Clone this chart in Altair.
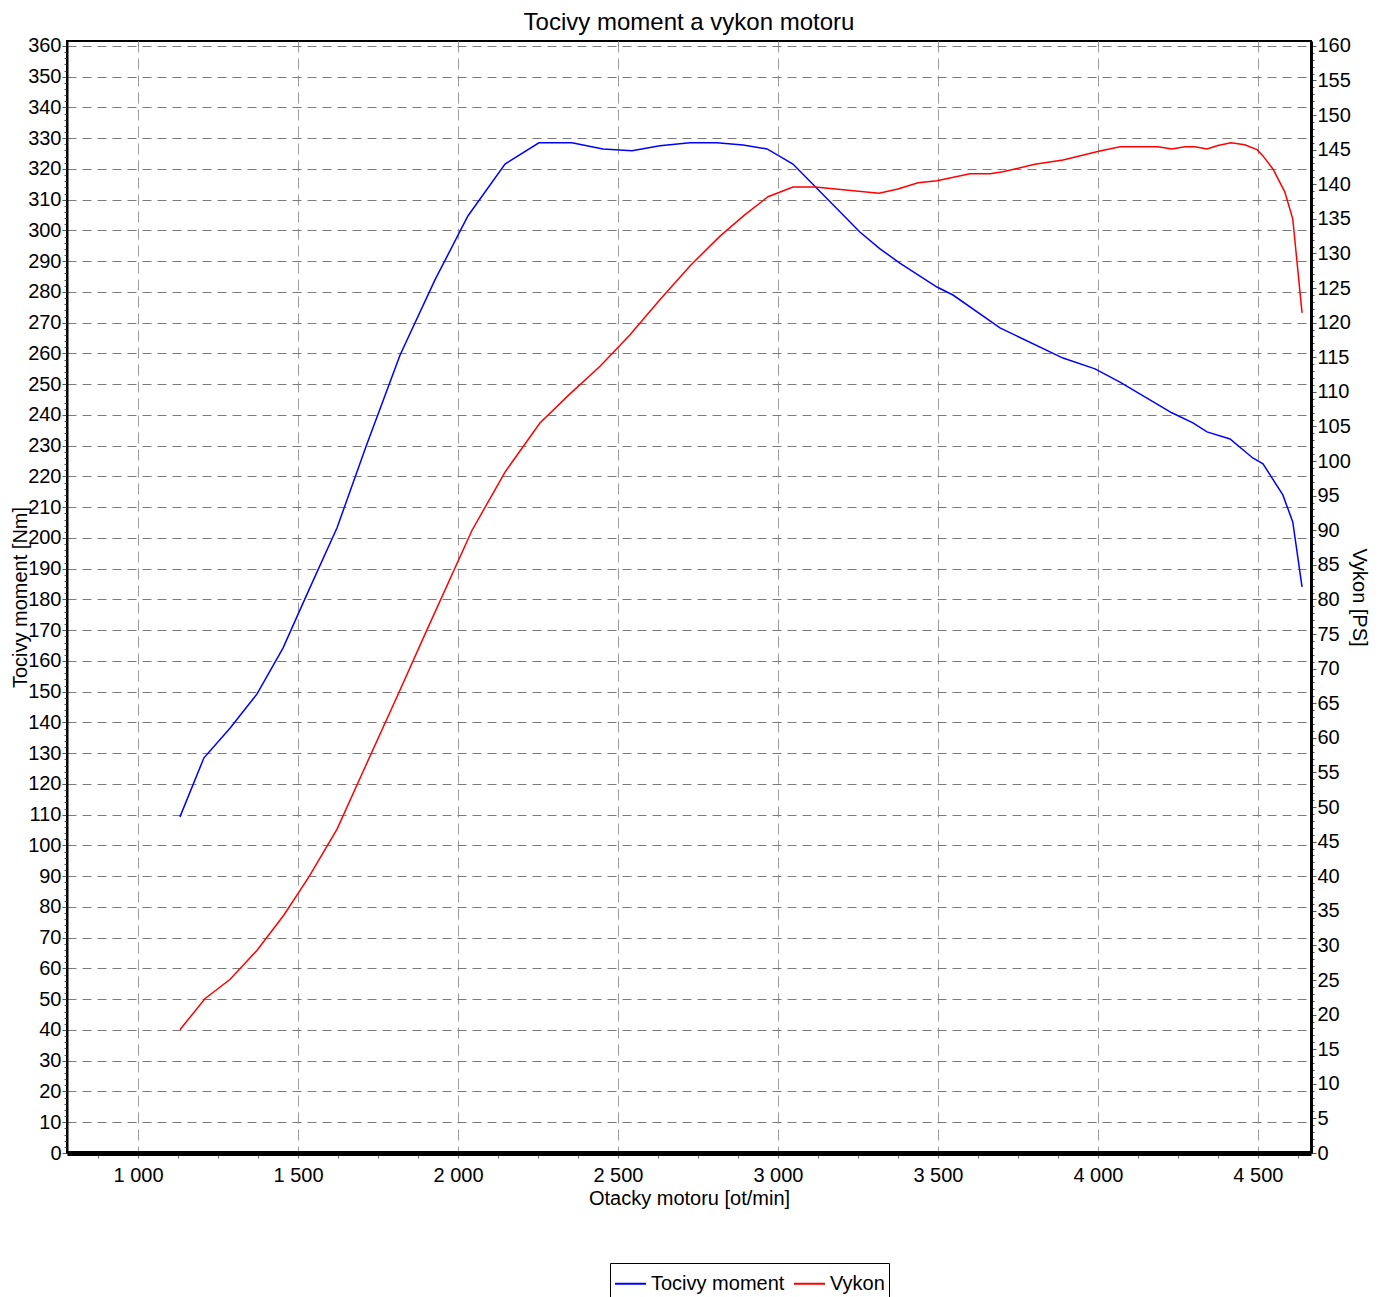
import altair as alt
import pandas as pd

# ---- data ----
rpm_torque = [1131, 1206, 1288, 1372, 1453, 1531, 1622, 1712, 1819, 1928, 2031, 2147,
              2253, 2356, 2453, 2544, 2631, 2725, 2809, 2891, 2966, 3047, 3256, 3319,
              3381, 3497, 3547, 3694, 3891, 3991, 4069, 4231, 4297, 4341, 4413, 4484,
              4516, 4578, 4609, 4638]
torque_nm = [109.3, 128.5, 138.2, 149.3, 164.2, 182.4, 203.3, 229.6, 259.5, 283.9, 304.7, 321.6,
             328.5, 328.5, 326.5, 325.9, 327.5, 328.5, 328.5, 327.8, 326.5, 321.6, 299.5, 294.0,
             289.4, 281.6, 279.0, 268.3, 258.5, 255.0, 250.7, 240.7, 237.4, 234.5, 232.2, 226.0,
             224.1, 214.0, 205.2, 184.1]

rpm_power = [1131, 1209, 1288, 1372, 1456, 1534, 1622, 1703, 1809, 1903, 2044, 2147,
             2256, 2350, 2444, 2537, 2631, 2725, 2819, 2897, 2969, 3047, 3116, 3316,
             3375, 3438, 3497, 3600, 3663, 3703, 3803, 3891, 4006, 4069, 4188, 4231,
             4272, 4303, 4341, 4375, 4416, 4459, 4497, 4516, 4547, 4584, 4609, 4638]
power_ps = [17.8, 22.3, 25.1, 29.3, 34.4, 39.9, 46.8, 55.1, 65.9, 75.6, 90.0, 98.4,
            105.5, 109.7, 113.7, 118.2, 123.3, 128.2, 132.5, 135.6, 138.2, 139.6, 139.6, 138.7,
            139.3, 140.2, 140.5, 141.5, 141.5, 141.8, 142.9, 143.5, 144.8, 145.4, 145.4, 145.1,
            145.4, 145.4, 145.1, 145.6, 146.0, 145.7, 145.0, 144.1, 142.2, 138.9, 135.0, 121.4]

series_names = ["Tocivy moment", "Vykon"]
series_colors = ["#0000ff", "#ff0000"]

x_ticks = list(range(875, 4626, 125))
left_ticks = list(range(0, 361, 2))
right_ticks = list(range(0, 161, 1))

FONT = "Liberation Sans"
W, H = 1244, 1112

df_t = pd.DataFrame({"rpm": rpm_torque, "val": torque_nm, "series": series_names[0]})
df_p = pd.DataFrame({"rpm": rpm_power, "val": power_ps, "series": series_names[1]})


def cond(test, a, b):
    return {"condition": {"test": test, "value": a}, "value": b}


x_enc = alt.X(
    "rpm:Q",
    scale=alt.Scale(domain=[778, 4666], nice=False, zero=False),
    axis=alt.Axis(
        values=x_ticks,
        title="Otacky motoru [ot/min]",
        labelExpr="datum.value % 500 === 0 ? replace(format(datum.value, ','), ',', ' ') : ''",
        labelOverlap=False,
        labelFontSize=20,
        titleFontSize=20,
        labelPadding=7,
        titlePadding=3,
        tickSize=5,
        tickColor="#666666",
        domainColor="black",
        domainWidth=5,
        gridOpacity=cond("datum.value % 500 === 0", 1, 0),
        gridColor="#9a9a9a",
        gridDash=[11, 6],
        gridWidth=1,
    ),
)

color_enc = alt.Color(
    "series:N",
    scale=alt.Scale(domain=series_names, range=series_colors),
    legend=alt.Legend(
        title=None,
        # trailing no-break spaces reproduce the empty room at the right of the legend box
        labelExpr="datum.label === 'Vykon' ? datum.label + '\u00a0\u00a0\u00a0\u00a0\u00a0\u00a0\u00a0\u00a0\u00a0\u00a0\u00a0\u00a0\u00a0\u00a0\u00a0\u00a0' : datum.label",
    ),
)

torque = alt.Chart(df_t).mark_line(strokeWidth=1.5).encode(
    x=x_enc,
    y=alt.Y(
        "val:Q",
        scale=alt.Scale(domain=[0, 361.6], nice=False, zero=True),
        axis=alt.Axis(
            orient="left",
            values=left_ticks,
            title="Tocivy moment [Nm]",
            labelExpr="datum.value % 10 === 0 ? datum.label : ''",
            labelOverlap=False,
            labelFontSize=20,
            titleFontSize=20,
            labelPadding=1,
            tickSize=cond("datum.value % 10 === 0", 5, 3),
            tickColor="#555555",
            domainColor="black",
            domainWidth=2,
            gridOpacity=cond("datum.value % 10 === 0", 1, 0),
            gridColor="#7a7a7a",
            gridDash=[9, 6],
            titleAngle=-90,
            titleX=-47,
            titleY=H / 2,
            titleAlign="center",
            titleBaseline="middle",
        ),
    ),
    color=color_enc,
)

power = alt.Chart(df_p).mark_line(strokeWidth=1.5).encode(
    x=x_enc,
    y=alt.Y(
        "val:Q",
        scale=alt.Scale(domain=[0, 160.7], nice=False, zero=True),
        axis=alt.Axis(
            orient="right",
            values=right_ticks,
            title="Vykon [PS]",
            labelExpr="datum.value % 5 === 0 ? datum.label : ''",
            labelOverlap=False,
            labelFontSize=20,
            titleFontSize=20,
            labelPadding=1,
            tickSize=cond("datum.value % 5 === 0", 5, 3),
            tickColor="#555555",
            domainColor="black",
            domainWidth=3,
            gridOpacity=cond("datum.value % 5 === 0", 1, 0),
            gridColor="#b4b4b4",
            gridDash=[9, 6],
            titleAngle=90,
            titleX=47,
            titleY=H / 2,
            titleAlign="center",
            titleBaseline="middle",
        ),
    ),
    color=color_enc,
)

chart = (
    alt.layer(torque, power)
    .resolve_scale(y="independent")
    .properties(
        width=W,
        height=H,
        title=alt.Title("Tocivy moment a vykon motoru", fontSize=24, font=FONT,
                        fontWeight="normal", color="black", anchor="middle", offset=1),
        autosize=alt.AutoSizeParams(type="none"),
        padding={"left": 59, "top": 33, "right": 66, "bottom": 148},
    )
    .configure_view(stroke="black", strokeWidth=2)
    .configure_axis(labelFont=FONT, titleFont=FONT, labelColor="black",
                    titleColor="black", titleFontWeight="normal")
    .configure_legend(
        orient="none",
        legendX=543,
        legendY=1222,
        direction="horizontal",
        columns=2,
        gridAlign="all",
        columnPadding=5,
        padding=4,
        strokeColor="black",
        fillColor="white",
        labelFont=FONT,
        labelFontSize=20,
        labelColor="black",
        labelOffset=4,
        symbolType="stroke",
        symbolSize=961,
        symbolStrokeWidth=2,
        labelLimit=400,
    )
)

chart.save("out.html", embed_options={"renderer": "svg", "actions": False})
